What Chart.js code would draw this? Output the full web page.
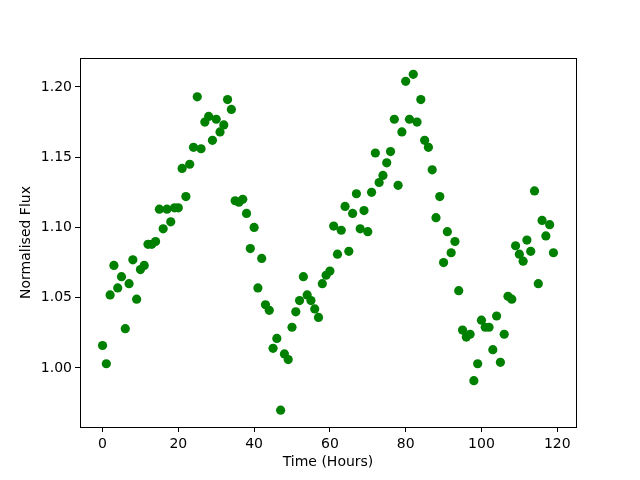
<!DOCTYPE html>
<html>
<head>
<meta charset="utf-8">
<script src="https://cdn.jsdelivr.net/npm/chart.js@4/dist/chart.umd.min.js"></script>
<style>
  html, body { margin: 0; padding: 0; background: #fff; }
</style>
</head>
<body>
<canvas id="chart-scatter" width="640" height="480"></canvas>
<script>
const hours = Array.from({ length: 120 }, (_, i) => i);
const flux = [
  1.016, 1.003, 1.052, 1.073, 1.057, 1.065, 1.028, 1.060, 1.077, 1.049,
  1.070, 1.073, 1.088, 1.088, 1.090, 1.113, 1.099, 1.113, 1.104, 1.114,
  1.114, 1.142, 1.122, 1.145, 1.157, 1.193, 1.156, 1.175, 1.179, 1.162,
  1.177, 1.168, 1.173, 1.191, 1.184, 1.119, 1.118, 1.120, 1.110, 1.085,
  1.100, 1.057, 1.078, 1.045, 1.041, 1.014, 1.021, 0.970, 1.010, 1.006,
  1.029, 1.040, 1.048, 1.065, 1.052, 1.048, 1.042, 1.036, 1.060, 1.066,
  1.069, 1.101, 1.081, 1.098, 1.115, 1.083, 1.110, 1.124, 1.099, 1.112,
  1.097, 1.125, 1.153, 1.132, 1.137, 1.146, 1.154, 1.177, 1.130, 1.168,
  1.204, 1.177, 1.209, 1.175, 1.191, 1.162, 1.157, 1.141, 1.107, 1.122,
  1.075, 1.097, 1.082, 1.090, 1.055, 1.027, 1.022, 1.024, 0.991, 1.003,
  1.034, 1.029, 1.029, 1.013, 1.037, 1.004, 1.024, 1.051, 1.049, 1.087,
  1.081, 1.076, 1.091, 1.083, 1.126, 1.060, 1.105, 1.094, 1.102, 1.082,
];
const xTicks = [0, 20, 40, 60, 80, 100, 120];
const yTicks = [1.00, 1.05, 1.10, 1.15, 1.20];

const FONT = { family: 'DejaVu Sans', size: 14 };

const frameBox = {
  id: 'frameBox',
  afterDraw(chart) {
    const { ctx, chartArea: a } = chart;
    ctx.save();
    ctx.strokeStyle = '#000';
    ctx.lineWidth = 1;
    ctx.strokeRect(Math.round(a.left) + 0.5, Math.round(a.top) + 0.5,
      Math.round(a.right - a.left), Math.round(a.bottom - a.top));
    ctx.restore();
  },
};

function initChart() {
  const ctx = document.getElementById('chart-scatter').getContext('2d');
  new Chart(ctx, {
    type: 'scatter',
    data: {
      datasets: [{
        data: hours.map((h, i) => ({ x: h, y: flux[i] })),
        backgroundColor: '#008000',
        borderColor: '#008000',
        pointRadius: 4.6,
        pointHoverRadius: 4.6,
        borderWidth: 0,
      }],
    },
    plugins: [frameBox],
    options: {
      responsive: false,
      animation: false,
      layout: { padding: { top: 58, right: 64, left: 14, bottom: 9 } },
      plugins: { legend: { display: false }, tooltip: { enabled: false } },
      scales: {
        x: {
          type: 'linear',
          min: -5.95,
          max: 124.95,
          afterFit: s => { s.height = 44; },
          afterBuildTicks: s => { s.ticks = xTicks.map(v => ({ value: v })); },
          grid: { drawOnChartArea: false, drawTicks: true, tickLength: 5, color: '#000' },
          border: { display: false },
          ticks: { font: FONT, color: '#000', padding: 4, maxRotation: 0 },
          title: { display: true, text: 'Time (Hours)', font: FONT, color: '#000', padding: { top: 4, bottom: 0 } },
        },
        y: {
          type: 'linear',
          min: 0.958,
          max: 1.2206,
          afterFit: s => { s.width = 66; },
          afterBuildTicks: s => { s.ticks = yTicks.map(v => ({ value: v })); },
          grid: { drawOnChartArea: false, drawTicks: true, tickLength: 5, color: '#000' },
          border: { display: false },
          ticks: { font: FONT, color: '#000', padding: 3, callback: v => v.toFixed(2) },
          title: { display: true, text: 'Normalised Flux', font: FONT, color: '#000', padding: { top: 4, bottom: 4 } },
        },
      },
    },
  });
}

document.addEventListener('DOMContentLoaded', initChart);
</script>
</body>
</html>
